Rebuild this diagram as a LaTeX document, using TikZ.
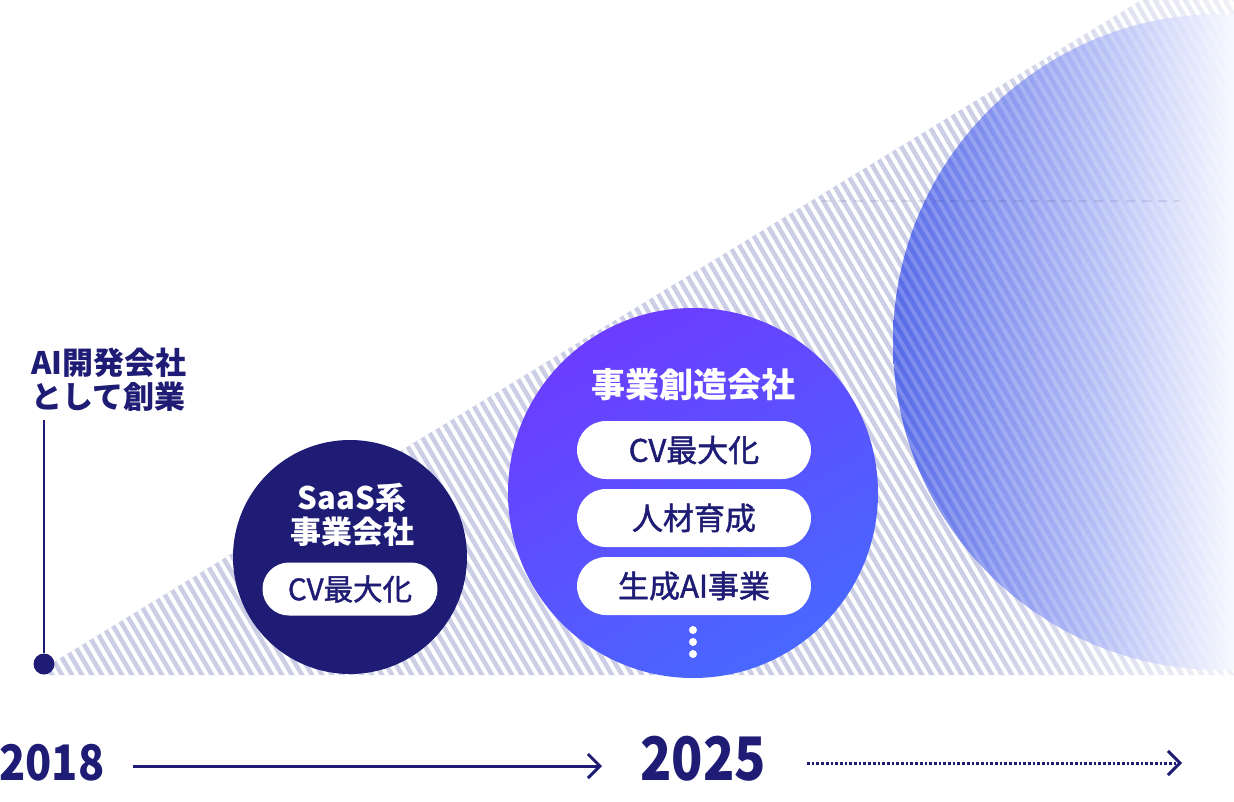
\documentclass[tikz,border=0pt]{standalone}
\usepackage{fontspec}
\setmainfont{Noto Sans CJK JP}
\newfontfamily\jpmed[FakeBold=1.5]{Noto Sans CJK JP}
\usetikzlibrary{arrows.meta,shapes.misc}
\definecolor{cnavy}{RGB}{30,28,116}
\definecolor{lav}{RGB}{203,206,229}
\definecolor{lavfade}{RGB}{240,241,248}
\definecolor{cpurple}{RGB}{108,60,255}
\definecolor{cblue}{RGB}{72,104,255}
\definecolor{bigL}{RGB}{86,106,232}
\definecolor{bigM}{RGB}{164,177,244}
\definecolor{bigR}{RGB}{246,248,255}
\pgfdeclarehorizontalshading{stripefade}{100bp}{color(0bp)=(lav); color(64bp)=(lav); color(75bp)=(lavfade); color(100bp)=(lavfade)}
\begin{document}
\begin{tikzpicture}[x=1pt,y=-1pt,
  stripew/.style={white, line width=3.8pt},
  title/.style={font=\bfseries\fontsize{31}{34}\selectfont, align=center, inner sep=0pt},
  pillsmall/.style={rounded rectangle, fill=white, minimum width=175pt, minimum height=53pt, inner sep=0pt, text=cnavy, font=\jpmed\fontsize{29.5}{33}\selectfont},
  pillbig/.style={rounded rectangle, fill=white, minimum width=234pt, minimum height=58pt, inner sep=0pt, text=cnavy, font=\jpmed\fontsize{31}{35}\selectfont},
  dotw/.style={circle, fill=white, minimum size=8pt, inner sep=0pt},
  year/.style={text=cnavy, inner sep=0pt},
  tl/.style={cnavy, line width=3pt}
]
\useasboundingbox (0,0) rectangle (1234,801);
% striped triangle
\begin{scope}
  \clip (44,668) -- (1141,0) -- (1234,0) -- (1234,675) -- (44,675) -- cycle;
  \shade[shading=stripefade] (44,0) rectangle (1234,675);
  \foreach \i in {-48,...,124} \draw[stripew] (\i*10,0) -- ++(470.6,800);
\end{scope}
% large fading circle
\begin{scope}
  \clip (1221,342) circle (328pt);
  \shade[left color=bigL, middle color=bigM, right color=bigR] (893,0) rectangle (1234,801);
  \foreach \i in {-48,...,124} \draw[stripew, opacity=0.2] (\i*10,0) -- ++(470.6,800);
\end{scope}
% faint dashed guide
\coordinate (dl1) at (822,201);
\coordinate (dl2) at (1180,201);
\draw[dash pattern=on 9pt off 7pt, line width=1.6pt, cnavy, opacity=0.1] (dl1) -- (dl2);

% founding marker
\node[title, text=cnavy, align=left, anchor=west] (found) at (31,380) {AI開発会社\\として創業};
\node[circle, fill=cnavy, minimum size=21pt, inner sep=0pt] (start) at (44,664) {};
\coordinate (ltop) at (44,420);
\draw[cnavy, line width=2pt] (ltop) -- (start);

% SaaS circle
\node[circle, fill=cnavy, minimum size=234pt, inner sep=0pt] (saas) at (350,557) {};
\node[title, text=white] (saast) at (352,515) {SaaS系\\事業会社};
\node[pillsmall] (p0) at (350,589) {CV最大化};

% business creation circle
\node[circle, inner sep=0pt, minimum size=370pt, top color=cpurple, bottom color=cblue, shading angle=30] (biz) at (693,493) {};
\node[title, text=white, font=\bfseries\fontsize{34}{38}\selectfont] (bizt) at (693,385) {事業創造会社};
\node[pillbig] (p1) at (694,450) {CV最大化};
\node[pillbig] (p2) at (694,518) {人材育成};
\node[pillbig] (p3) at (694,586) {生成AI事業};
\node[dotw] (d1) at (693,630) {};
\node[dotw] (d2) at (693,642) {};
\node[dotw] (d3) at (693,654) {};

% timeline
\node[year, font=\bfseries\fontsize{49}{52}\selectfont] (y2018) at (52,763) {\scalebox{0.88}[1]{2018}};
\node[year, font=\bfseries\fontsize{60}{64}\selectfont] (y2025) at (703,759) {\scalebox{0.86}[1]{2025}};
\coordinate (a1s) at (133,766);
\coordinate (a1e) at (602,766);
\coordinate (a2s) at (807,763);
\coordinate (a2e) at (1182,763);
\draw[tl, -{Straight Barb[length=12pt,width=24pt]}] (a1s) -- (a1e);
\draw[tl, dash pattern=on 2.7pt off 2pt, -{Straight Barb[length=12pt,width=24pt]}] (a2s) -- (a2e);
\end{tikzpicture}
\end{document}
